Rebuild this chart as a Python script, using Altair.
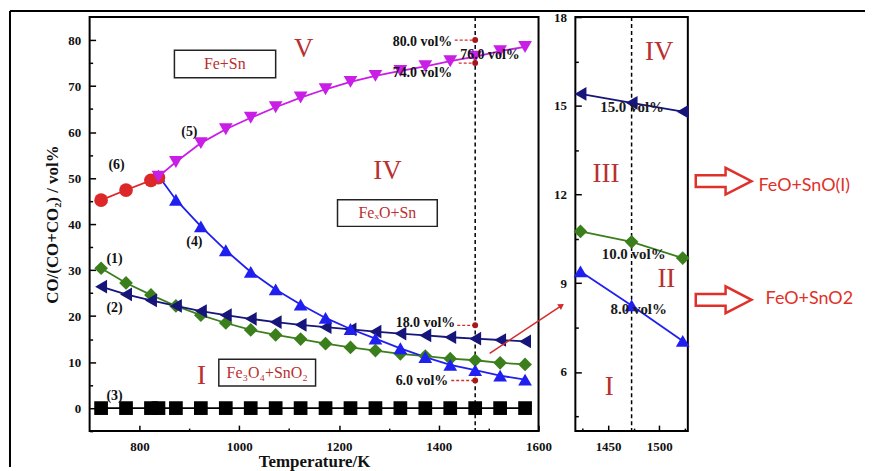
import altair as alt
import pandas as pd

# ---------------- data ----------------
T_main = [723, 773, 823, 873, 923, 973, 1023, 1073, 1123, 1173, 1223, 1273, 1323, 1373, 1423, 1473, 1523, 1573]
T_s3 = [723, 773, 823, 838, 873, 923, 973, 1023, 1073, 1123, 1173, 1223, 1273, 1323, 1373, 1423, 1473, 1523, 1573]
T_s45 = [838, 873, 923, 973, 1023, 1073, 1123, 1173, 1223, 1273, 1323, 1373, 1423, 1473, 1523, 1573]
T_s6 = [723, 773, 823, 838]

s1_green = [30.4, 27.2, 24.6, 22.2, 20.2, 18.5, 17.0, 15.9, 15.0, 14.0, 13.2, 12.5, 11.8, 11.3, 10.75, 10.4, 9.85, 9.5]
s2_navy = [26.4, 24.7, 23.4, 22.2, 21.1, 20.2, 19.4, 18.7, 18.1, 17.6, 17.1, 16.6, 16.2, 15.8, 15.4, 15.1, 14.8, 14.5]
s3_black = [0, 0, 0, 0, 0, 0, 0, 0, 0, 0, 0, 0, 0, 0, 0, 0, 0, 0, 0]
s4_blue = [50.5, 45.3, 39.5, 34.3, 29.6, 25.8, 22.5, 19.6, 17.2, 15.1, 13.0, 11.1, 9.4, 8.25, 7.05, 6.2]
s5_magenta = [50.3, 53.5, 57.6, 60.6, 63.1, 65.4, 67.5, 69.3, 70.9, 72.2, 73.3, 74.3, 75.4, 76.4, 77.6, 78.5]
s6_red = [45.2, 47.4, 49.5, 50.1]

T_zoom = [1423, 1473, 1523]
z_navy = [15.4, 15.1, 14.8]
z_green = [10.75, 10.4, 9.85]
z_blue = [9.4, 8.25, 7.05]

series_names = ["(3)", "(1)", "(2)", "(4)", "(6)", "(5)"]
series_colors = ["#000000", "#3b7f1c", "#15157a", "#1f1ff0", "#dc2828", "#c81ee6"]
series_shapes = ["square", "diamond", "triangle-left", "triangle-up", "circle", "triangle-down"]

dashed_T = [1473]

# annotation points at 1473 K
mark_T = [1473, 1473, 1473, 1473]
mark_v = [80, 75, 18, 6]
mark_T0 = [1432, 1440, 1437, 1425]

# ---------------- tables ----------------
rows = []
for name, T, vals in [("(3)", T_s3, s3_black), ("(1)", T_main, s1_green), ("(2)", T_main, s2_navy),
                      ("(4)", T_s45, s4_blue), ("(6)", T_s6, s6_red), ("(5)", T_s45, s5_magenta)]:
    for t, v in zip(T, vals):
        rows.append({"series": name, "T": t, "v": v})
df_main = pd.DataFrame(rows)

zrows = []
for name, vals in [("(1)", z_green), ("(2)", z_navy), ("(4)", z_blue)]:
    for t, v in zip(T_zoom, vals):
        zrows.append({"series": name, "T": t, "v": v})
df_zoom = pd.DataFrame(zrows)

SERIF = "Liberation Serif"
RED_TXT = "#b83030"

color_enc = alt.Color("series:N", scale=alt.Scale(domain=series_names, range=series_colors), legend=None)
shape_enc = alt.Shape("series:N", scale=alt.Scale(domain=series_names, range=series_shapes), legend=None)

# ---------------- main panel ----------------
sx = alt.Scale(domain=[700, 1600], nice=False, zero=False)
sy = alt.Scale(domain=[-5, 85], nice=False, zero=False)

def X(field="T", axis=None):
    return alt.X(f"{field}:Q", scale=sx, axis=axis)

def Y(field="v", axis=None):
    return alt.Y(f"{field}:Q", scale=sy, axis=axis)

x_major = alt.Axis(values=[800, 1000, 1200, 1400, 1600], format="d", tickSize=6, offset=-6, domain=False,
                   grid=False, labelPadding=9, title="Temperature/K", titlePadding=1, orient="bottom",
                   tickWidth=1.5, tickColor="black", labelFlush=False)
x_minor = alt.Axis(values=[900, 1100, 1300, 1500], tickSize=3, offset=-3, domain=False, grid=False,
                   labels=False, title=None, orient="bottom", tickWidth=1.5, tickColor="black")
y_major = alt.Axis(values=[0, 10, 20, 30, 40, 50, 60, 70, 80], format="d", tickSize=6, offset=-6, domain=False,
                   grid=False, labelPadding=9, title="CO/(CO+CO₂) / vol%", titlePadding=6, orient="left",
                   tickWidth=1.5, tickColor="black", labelFlush=False)
y_minor = alt.Axis(values=[-5, 5, 15, 25, 35, 45, 55, 65, 75], tickSize=3, offset=-3, domain=False, grid=False,
                   labels=False, title=None, orient="left", tickWidth=1.5, tickColor="black")

lines = alt.Chart(df_main).mark_line(strokeWidth=1.8).encode(
    x=X(axis=x_major), y=Y(axis=y_major), color=color_enc, detail="series:N")
points = alt.Chart(df_main).mark_point(filled=True, size=190, opacity=1).encode(
    x=X(axis=x_minor), y=Y(axis=y_minor), color=color_enc, shape=shape_enc)

dash = alt.Chart(pd.DataFrame({"T": dashed_T})).mark_rule(
    strokeDash=[4, 3], strokeWidth=1.5, color="black").encode(x=X())

region_main = pd.DataFrame({"T": [1129, 1297, 924], "v": [78.0, 51.5, 7.0], "txt": ["V", "IV", "I"]})
t_region = alt.Chart(region_main).mark_text(font=SERIF, fontSize=27, color=RED_TXT).encode(
    x=X(), y=Y(), text="txt:N")

boxes = pd.DataFrame({"T0": [870, 1197, 959], "T1": [1073, 1397, 1153],
                      "v0": [71.8, 39.5, 4.8], "v1": [77.8, 45.3, 10.6]})
r_boxes = alt.Chart(boxes).mark_rect(fill="white", stroke="#222222", strokeWidth=1.5).encode(
    x=X("T0"), x2="T1:Q", y=Y("v0"), y2="v1:Q")
box_txt = pd.DataFrame({"T": [971, 1297, 1056], "v": [74.8, 42.4, 7.7],
                        "txt": ["Fe+Sn", "FeₓO+Sn", "Fe₃O₄+SnO₂"]})
t_box = alt.Chart(box_txt).mark_text(font=SERIF, fontSize=16, color=RED_TXT).encode(
    x=X(), y=Y(), text="txt:N")

ser_lbl = pd.DataFrame({"T": [900, 754, 910, 750, 750, 750], "v": [60.1, 52.9, 36.2, 32.5, 21.7, 2.6],
                        "txt": ["(5)", "(6)", "(4)", "(1)", "(2)", "(3)"]})
t_ser = alt.Chart(ser_lbl).mark_text(font=SERIF, fontSize=14, fontWeight="bold", color="#111111").encode(
    x=X(), y=Y(), text="txt:N")

vol_r = pd.DataFrame({"T": [1427, 1427, 1433, 1419], "v": [79.6, 72.8, 18.6, 5.9],
                      "txt": ["80.0 vol%", "74.0 vol%", "18.0 vol%", "6.0 vol%"]})
t_vol_r = alt.Chart(vol_r).mark_text(font=SERIF, fontSize=14, fontWeight="bold", color="#111111",
                                     align="right").encode(x=X(), y=Y(), text="txt:N")

red_lines = pd.DataFrame({"T0": mark_T0, "T1": mark_T, "v": mark_v})
r_red = alt.Chart(red_lines).mark_rule(color="#d03030", strokeWidth=1.3, strokeDash=[3, 2]).encode(
    x=X("T0"), x2="T1:Q", y=Y())
red_dots = pd.DataFrame({"T": mark_T, "v": mark_v})
p_red = alt.Chart(red_dots).mark_point(filled=True, size=35, color="#a81818", opacity=1).encode(x=X(), y=Y())

vol_l = pd.DataFrame({"T": [1443], "v": [76.7], "txt": ["76.0 vol%"]})
t_vol_l = alt.Chart(vol_l).mark_text(font=SERIF, fontSize=14, fontWeight="bold", color="#111111",
                                     align="left").encode(x=X(), y=Y(), text="txt:N")

arrow = pd.DataFrame({"T0": [1502], "v0": [11.9], "T1": [1646], "v1": [22.3]})
r_arrow = alt.Chart(arrow).mark_rule(color="#d42a2a", strokeWidth=1.5, clip=False).encode(
    x=X("T0"), y=Y("v0"), x2="T1:Q", y2="v1:Q")
head = pd.DataFrame({"T": [1646], "v": [22.3]})
p_head = alt.Chart(head).mark_point(shape="triangle-right", angle=326, size=45, filled=True,
                                    color="#d42a2a", opacity=1, clip=False).encode(x=X(), y=Y())

one = pd.DataFrame({"a": [0]})
frame_top = alt.Chart(one).mark_rule(color="black", strokeWidth=2).encode(
    x=alt.value(-80), x2=alt.value(779), y=alt.value(-6))
frame_left = alt.Chart(one).mark_rule(color="black", strokeWidth=2).encode(
    x=alt.value(-80), y=alt.value(-6), y2=alt.value(452))

main = alt.layer(
    frame_top, frame_left, dash, r_boxes, lines, points, t_region, t_box, t_ser,
    r_red, p_red, t_vol_r, t_vol_l, r_arrow, p_head
).resolve_axis(x="independent", y="independent").properties(width=451, height=416)

# ---------------- zoom panel ----------------
zx = alt.Scale(domain=[1418, 1528], nice=False, zero=False)
zy = alt.Scale(domain=[4, 18], nice=False, zero=False)

def ZX(field="T", axis=None):
    return alt.X(f"{field}:Q", scale=zx, axis=axis)

def ZY(field="v", axis=None):
    return alt.Y(f"{field}:Q", scale=zy, axis=axis)

zx_major = alt.Axis(values=[1450, 1500], format="d", tickSize=6, offset=-6, domain=False, grid=False,
                    labelPadding=9, title=None, orient="bottom", tickWidth=1.5, tickColor="black",
                    labelFlush=False)
zx_minor = alt.Axis(values=[1425, 1475, 1525], tickSize=3, offset=-3, domain=False, grid=False, labels=False,
                    title=None, orient="bottom", tickWidth=1.5, tickColor="black")
zy_major = alt.Axis(values=[6, 9, 12, 15, 18], format="d", tickSize=6, offset=-6, domain=False, grid=False,
                    labelPadding=9, title=None, orient="left", tickWidth=1.5, tickColor="black",
                    labelFlush=False)
zy_minor = alt.Axis(values=[4.5, 7.5, 10.5, 13.5, 16.5], tickSize=3, offset=-3, domain=False, grid=False,
                    labels=False, title=None, orient="left", tickWidth=1.5, tickColor="black")

z_lines = alt.Chart(df_zoom).mark_line(strokeWidth=1.8).encode(
    x=ZX(axis=zx_major), y=ZY(axis=zy_major), color=color_enc, detail="series:N")
z_points = alt.Chart(df_zoom).mark_point(filled=True, size=190, opacity=1).encode(
    x=ZX(axis=zx_minor), y=ZY(axis=zy_minor), color=color_enc, shape=shape_enc)
z_dash = alt.Chart(pd.DataFrame({"T": dashed_T})).mark_rule(
    strokeDash=[4, 3], strokeWidth=1.5, color="black").encode(x=ZX())

z_region = pd.DataFrame({"T": [1500, 1448, 1507, 1451], "v": [16.8, 12.7, 9.15, 5.5],
                         "txt": ["IV", "III", "II", "I"]})
zt_region = alt.Chart(z_region).mark_text(font=SERIF, fontSize=27, color=RED_TXT).encode(
    x=ZX(), y=ZY(), text="txt:N")
z_vol = pd.DataFrame({"T": [1473.5, 1475, 1480], "v": [14.97, 9.99, 8.13],
                      "txt": ["15.0 vol%", "10.0 vol%", "8.0 vol%"]})
zt_vol = alt.Chart(z_vol).mark_text(font=SERIF, fontSize=15, fontWeight="bold", color="#1a1a1a").encode(
    x=ZX(), y=ZY(), text="txt:N")

arrow_path = "M -1 -0.21 L 0.07 -0.21 L 0.07 -0.48 L 1 0 L 0.07 0.48 L 0.07 0.21 L -1 0.21 Z"
z_arrows = pd.DataFrame({"T": [1563, 1563], "v": [12.45, 8.44]})
zp_arrows = alt.Chart(z_arrows).mark_point(shape=arrow_path, size=3136, filled=False, stroke="#e0302a",
                                           strokeWidth=2.5, opacity=1, clip=False).encode(x=ZX(), y=ZY())
z_out = pd.DataFrame({"T": [1597, 1604], "v": [12.3, 8.47], "txt": ["FeO+SnO(I)", "FeO+SnO2"]})
zt_out = alt.Chart(z_out).mark_text(font="Lato", fontSize=18, color="#e0302a", align="left").encode(
    x=ZX(), y=ZY(), text="txt:N")

zoom = alt.layer(
    z_dash, z_lines, z_points, zt_region, zt_vol, zp_arrows, zt_out
).resolve_axis(x="independent", y="independent").properties(width=113, height=416)

chart = alt.hconcat(main, zoom, spacing=37, bounds="flush").properties(
    padding={"left": 0, "top": 0, "right": 0, "bottom": 0}, background="white"
).configure_view(stroke="black", strokeWidth=2).configure_axis(
    labelFont=SERIF, labelFontSize=13, labelFontWeight="bold", labelColor="#111111",
    titleFont=SERIF, titleFontSize=17, titleFontWeight="bold", titleColor="#111111"
)

chart.save("out.html", embed_options={"renderer": "svg", "actions": False})
